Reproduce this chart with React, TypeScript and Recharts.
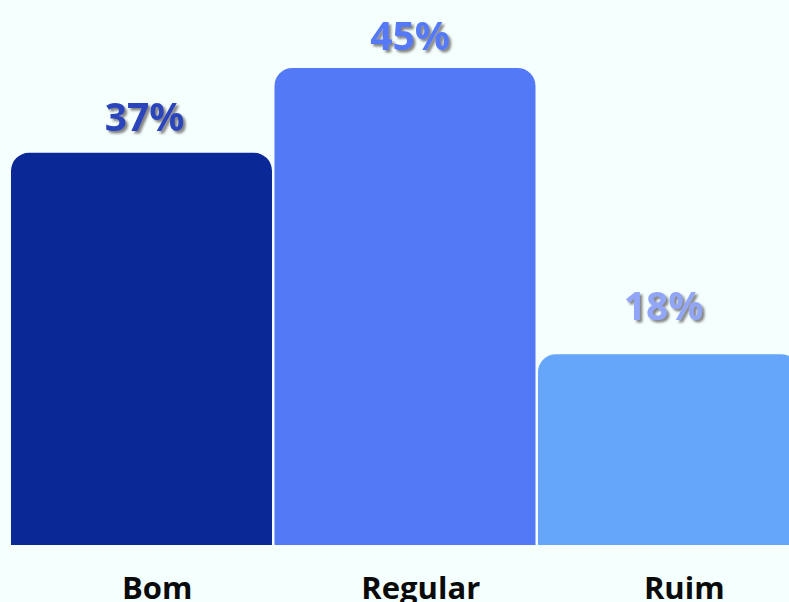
import { BarChart, Bar, XAxis, YAxis, Cell, LabelList } from "recharts";

const categories = ["Bom", "Regular", "Ruim"];
const values = [37, 45, 18];
const barColors = ["#0a2896", "#5479f7", "#66a6fa"];
const labelColors = ["#2a45bb", "#5479f7", "#92a6f8"];

// label nudges (style only)
const labelDx = [3, 5, -5];
const labelGap = [22, 18, 34];

const data = categories.map((name, i) => ({ name, value: values[i] }));

const FONT = "'Open Sans', 'Noto Sans', sans-serif";

const ValueLabel = (props: any) => {
  const { x, y, width, value, index } = props;
  return (
    <text
      x={x + width / 2 + labelDx[index]}
      y={y - labelGap[index]}
      textAnchor="middle"
      fontFamily={FONT}
      fontWeight={700}
      fontSize={39}
      fill={labelColors[index]}
      filter="url(#labelShadow)"
    >
      {value}%
    </text>
  );
};

const CategoryTick = (props: any) => {
  const { x, y, payload } = props;
  return (
    <text
      x={x + 16}
      y={y + 46}
      textAnchor="middle"
      fontFamily={FONT}
      fontWeight={700}
      fontSize={31}
      fill="#0a0a0a"
    >
      {payload.value}
    </text>
  );
};

export default function App() {
  return (
    <div
      style={{
        position: "fixed",
        left: 0,
        top: 0,
        width: 789,
        height: 602,
        overflow: "hidden",
        background: "#f5fffd",
      }}
    >
      <BarChart
        width={800}
        height={602}
        data={data}
        margin={{ top: 15, right: 0, left: 9.5, bottom: 27 }}
        barCategoryGap={1.5}
      >
        <defs>
          <filter id="labelShadow" x="-20%" y="-20%" width="150%" height="150%">
            <feDropShadow dx="2.5" dy="2.5" stdDeviation="1" floodColor="#6e6e6e" floodOpacity="0.85" />
          </filter>
        </defs>
        <XAxis
          dataKey="name"
          axisLine={false}
          tickLine={false}
          tick={<CategoryTick />}
          interval={0}
          height={30}
        />
        <YAxis hide domain={[0, 50]} />
        <Bar dataKey="value" radius={[18, 18, 0, 0]} isAnimationActive={false}>
          {data.map((d, i) => (
            <Cell key={d.name} fill={barColors[i]} />
          ))}
          <LabelList dataKey="value" content={<ValueLabel />} />
        </Bar>
      </BarChart>
    </div>
  );
}
